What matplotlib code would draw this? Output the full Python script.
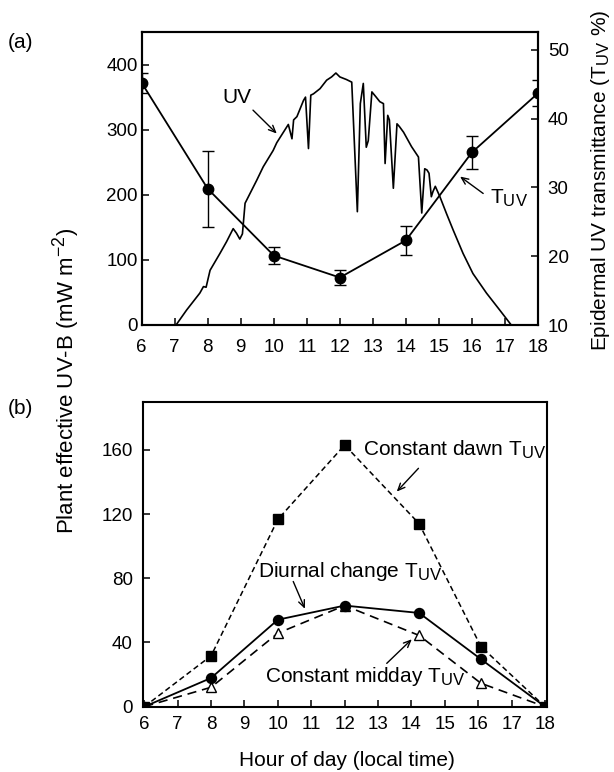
import matplotlib
matplotlib.use("Agg")
import matplotlib.pyplot as plt
import matplotlib._mathtext as _mt

# Slightly larger sub/superscripts, as in the reference figure
_mt.SHRINK_FACTOR = 0.8

plt.rcParams['font.family'] = ['Liberation Sans', 'DejaVu Sans']
plt.rcParams['mathtext.fontset'] = 'custom'
plt.rcParams['mathtext.rm'] = 'Liberation Sans'
plt.rcParams['mathtext.it'] = 'Liberation Sans:italic'
plt.rcParams['mathtext.bf'] = 'Liberation Sans:bold'

# ---------------- data ----------------
hours_ticks = list(range(6, 19))

# Panel (a): UV trace (left axis, mW m-2)
uv_hour = [7.04, 7.36, 7.76, 7.87, 7.95, 8.07, 8.37, 8.57, 8.77, 8.87, 8.97, 9.05, 9.13,
           9.28, 9.48, 9.68, 9.98, 10.09, 10.24, 10.44, 10.55, 10.6, 10.7, 10.9, 10.96,
           11.05, 11.12, 11.2, 11.4, 11.6, 11.75, 11.88, 12.0, 12.2, 12.36, 12.53, 12.62,
           12.71, 12.8, 12.86, 12.97, 13.1, 13.21, 13.32, 13.37, 13.45, 13.5, 13.62, 13.73,
           13.8, 13.93, 14.17, 14.38, 14.48, 14.57, 14.64, 14.7, 14.77, 14.82, 14.89, 15.03,
           15.23, 15.43, 15.73, 16.03, 16.44, 16.84, 17.19]
uv_value = [0, 23, 49, 59, 58, 84, 110, 128, 148, 141, 132, 140, 187,
            202, 222, 243, 268, 280, 292, 308, 286, 315, 320, 345, 350,
            271, 353, 355, 363, 376, 381, 387, 381, 377, 373, 174, 340,
            371, 273, 283, 358, 350, 343, 340, 248, 322, 315, 210, 309,
            305, 296, 274, 258, 172, 240, 238, 233, 197, 205, 213, 197,
            171, 146, 110, 79, 49, 23, 0]

# Panel (a): epidermal UV transmittance (right axis, %)
tuv_hour = [6, 8, 10, 12, 14, 16, 18]
tuv_value = [45.2, 29.8, 20.1, 16.9, 22.3, 35.1, 43.7]
tuv_err = [1.5, 5.5, 1.3, 1.15, 2.1, 2.4, 1.9]

# Panel (b)
b_hour = [6, 8, 10, 12, 14.23, 16.08, 18]
dawn_value = [0, 31.7, 116.7, 163, 114, 37.5, 0]
diurnal_value = [0, 17.9, 54.2, 63, 58.4, 29.6, 0]
midday_value = [0, 12.1, 45.8, 63, 44.4, 14.6, 0]

# ---------------- figure ----------------
W, H = 614, 772
fig = plt.figure(figsize=(W / 100, H / 100), dpi=100)

TFS = 13.5   # tick labels
FS = 15      # other text
lw = 1.3

def px_rect(l, t, r, b):
    return [l / W, 1 - b / H, (r - l) / W, (b - t) / H]

arrow_kw = dict(arrowstyle='->,head_length=0.5,head_width=0.22', color='black',
                lw=1.0, shrinkA=0, shrinkB=0)

# Panel (a)
axa = fig.add_axes(px_rect(141.7, 32, 538, 325))
axa.plot(uv_hour, uv_value, color='black', lw=1.2)
axa.set_xlim(6, 18)
axa.set_ylim(0, 450)
axa.set_yticks([0, 100, 200, 300, 400])
axa.set_xticks(hours_ticks)
axa.tick_params(direction='in', length=5, width=1.1, labelsize=TFS)
axa.tick_params(axis='x', pad=10)
axa.tick_params(axis='y', pad=3)

axr = axa.twinx()
axr.errorbar(tuv_hour, tuv_value, yerr=tuv_err, color='black', lw=lw, marker='o',
             ms=7.5, capsize=4, elinewidth=1.0, capthick=1.0)
axr.set_ylim(10, 52.6)
axr.set_yticks([10, 20, 30, 40, 50])
axr.tick_params(direction='in', length=5, width=1.1, labelsize=TFS, pad=7)

for ax in (axa, axr):
    for s in ax.spines.values():
        s.set_linewidth(1.5)

axa.text(8.88, 350, 'UV', fontsize=FS, ha='center', va='center')
axa.annotate('', xy=(10.09, 294), xytext=(9.37, 330), arrowprops=arrow_kw)
axa.text(16.55, 195, r'T$_{\rm UV}$', fontsize=FS, ha='left', va='center')
axa.annotate('', xy=(15.64, 228), xytext=(16.34, 202), arrowprops=arrow_kw)

# Panel (b)
axb = fig.add_axes(px_rect(142.7, 401.7, 546.7, 706.7))
axb.plot(b_hour, dawn_value, color='black', lw=1.1, dashes=(3.6, 2.2),
         marker='s', ms=7.2, mfc='black', mec='black')
axb.plot(b_hour, midday_value, color='black', lw=1.2, dashes=(5.5, 3.5),
         marker='^', ms=7, mfc='white', mec='black', mew=1.0)
axb.plot(b_hour, diurnal_value, color='black', lw=lw,
         marker='o', ms=7.2, mfc='black', mec='black')
axb.set_xlim(5.952, 18.05)
axb.set_ylim(0, 190)
axb.set_yticks([0, 40, 80, 120, 160])
axb.set_xticks(hours_ticks)
axb.tick_params(direction='in', length=5, width=1.1, labelsize=TFS)
axb.tick_params(axis='x', pad=7)
axb.tick_params(axis='y', pad=7)
for s in axb.spines.values():
    s.set_linewidth(1.5)

axb.text(12.55, 160, r'Constant dawn T$_{\rm UV}$', fontsize=FS, ha='left', va='center')
axb.annotate('', xy=(13.56, 134), xytext=(14.21, 148.5), arrowprops=arrow_kw)
axb.text(9.4, 84, r'Diurnal change T$_{\rm UV}$', fontsize=FS, ha='left', va='center')
axb.annotate('', xy=(10.81, 61), xytext=(10.46, 78), arrowprops=arrow_kw)
axb.text(9.61, 19, r'Constant midday T$_{\rm UV}$', fontsize=FS, ha='left', va='center')
axb.annotate('', xy=(14.01, 42), xytext=(13.26, 27), arrowprops=arrow_kw)

# Labels
fig.text(8 / W, 1 - 42 / H, '(a)', fontsize=FS, ha='left', va='center')
fig.text(8 / W, 1 - 409 / H, '(b)', fontsize=FS, ha='left', va='center')
fig.text(66 / W, 1 - 381 / H, r'Plant effective UV-B (mW m$^{-2}$)', fontsize=16,
         rotation=90, ha='center', va='center')
fig.text(601 / W, 1 - 180 / H, r'Epidermal UV transmittance (T$_{\rm UV}$ %)',
         fontsize=FS, rotation=90, ha='center', va='center')
fig.text(346.7 / W, 1 - 761 / H, 'Hour of day (local time)', fontsize=FS,
         ha='center', va='center')

fig.savefig('out.png', dpi=100)
